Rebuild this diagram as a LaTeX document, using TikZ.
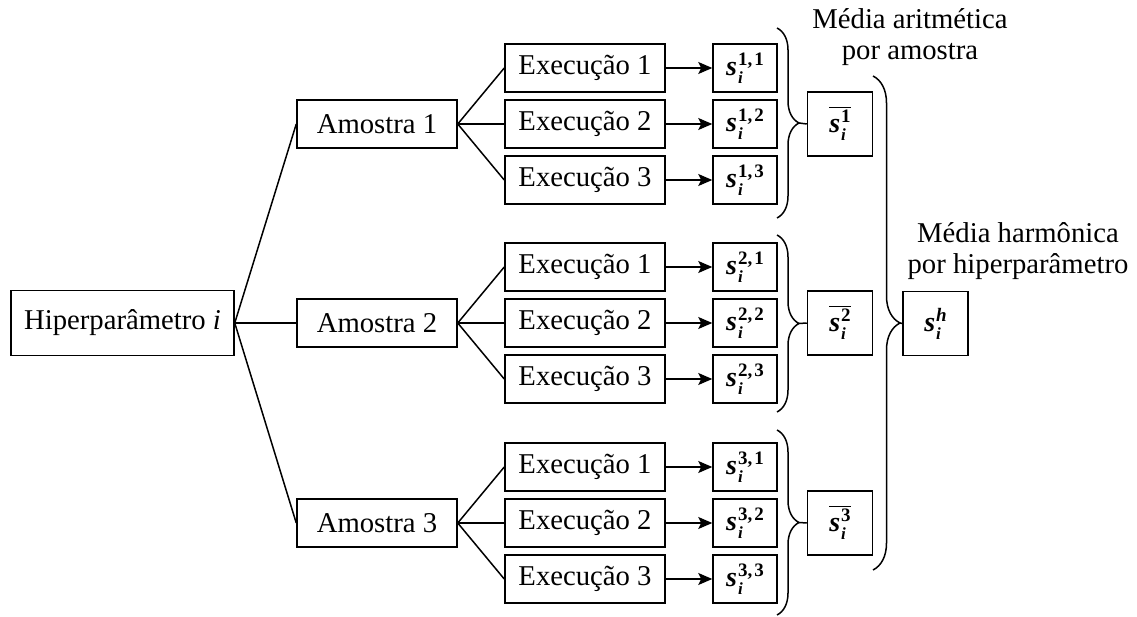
\documentclass[tikz,border=0pt]{standalone}
\usepackage{fontspec}
\setmainfont{Liberation Serif}
\usetikzlibrary{arrows.meta,decorations.pathreplacing}

% score symbol s with a lower index and an upper index, set in bold text
\newcommand{\idxsize}{\fontsize{19}{19}\selectfont}
\newcommand{\subsize}{\fontsize{17}{17}\selectfont}
\newcommand{\scoresym}[2]{{\fontsize{28}{28}\selectfont\textbf{\textit{s}}}\kern1pt\rlap{\raisebox{-8pt}{\subsize\textbf{\textit{#2}}}}\raisebox{10pt}{\idxsize\textbf{#1}}}
\newcommand{\pair}[2]{#1,\kern2pt#2}
% the same symbol under a bar
\newcommand{\scorebar}[2]{\vbox{\hrule height 0.9pt\kern 2pt\hbox{\scoresym{#1}{#2}}}}

\tikzset{
  box/.style={draw, line width=1.5pt, inner sep=0pt, font=\fontsize{28.7}{31}\selectfont},
  widebox/.style={box, minimum width=160pt, minimum height=48pt},
  valbox/.style={box, minimum width=64pt, minimum height=48pt},
  sqbox/.style={box, minimum width=65pt, minimum height=64pt},
  link/.style={line width=1.5pt},
  arrowlink/.style={line width=1.5pt, -{Stealth[length=14pt,width=12pt,inset=3pt]}},
  groupbrace/.style={line width=1.5pt, decorate, decoration={brace, amplitude=22pt}},
  bigbrace/.style={line width=1.5pt, decorate, decoration={brace, amplitude=27pt}},
  caption/.style={align=center, inner sep=0pt, font=\fontsize{28.7}{31}\selectfont}
}

\begin{document}
\begin{tikzpicture}[x=1pt, y=-1pt]
  \useasboundingbox (0,0) rectangle (1137,617);

  % root
  \node[box, minimum width=223pt, minimum height=65pt] (hp) at (122.5,323) {Hiperparâmetro \textit{i}};

  % samples
  \node[widebox] (am1) at (377,124) {Amostra 1};
  \node[widebox] (am2) at (377,323) {Amostra 2};
  \node[widebox] (am3) at (377,523) {Amostra 3};

  % runs
  \node[widebox] (ex11) at (585,68)  {Execução 1};
  \node[widebox] (ex12) at (585,124) {Execução 2};
  \node[widebox] (ex13) at (585,180) {Execução 3};
  \node[widebox] (ex21) at (585,267) {Execução 1};
  \node[widebox] (ex22) at (585,323) {Execução 2};
  \node[widebox] (ex23) at (585,379) {Execução 3};
  \node[widebox] (ex31) at (585,467) {Execução 1};
  \node[widebox] (ex32) at (585,523) {Execução 2};
  \node[widebox] (ex33) at (585,579) {Execução 3};

  % scores of each run
  \node[valbox] (sc11) at (745,68)  {\scoresym{\pair{1}{1}}{i}};
  \node[valbox] (sc12) at (745,124) {\scoresym{\pair{1}{2}}{i}};
  \node[valbox] (sc13) at (745,180) {\scoresym{\pair{1}{3}}{i}};
  \node[valbox] (sc21) at (745,267) {\scoresym{\pair{2}{1}}{i}};
  \node[valbox] (sc22) at (745,323) {\scoresym{\pair{2}{2}}{i}};
  \node[valbox] (sc23) at (745,379) {\scoresym{\pair{2}{3}}{i}};
  \node[valbox] (sc31) at (745,467) {\scoresym{\pair{3}{1}}{i}};
  \node[valbox] (sc32) at (745,523) {\scoresym{\pair{3}{2}}{i}};
  \node[valbox] (sc33) at (745,579) {\scoresym{\pair{3}{3}}{i}};

  % sample means
  \node[sqbox] (m1) at (840,124) {\scorebar{1}{i}};
  \node[sqbox] (m2) at (840,323) {\scorebar{2}{i}};
  \node[sqbox] (m3) at (840,523) {\scorebar{3}{i}};

  % connectors
  \foreach \gi in {1,2,3} {
    \draw[link] (hp.east) -- (am\gi.west);
    \foreach \ri in {1,2,3} {
      \draw[link] (am\gi.east) -- (ex\gi\ri.west);
      \draw[arrowlink] (ex\gi\ri.east) -- (sc\gi\ri.west);
    }
  }

  % arithmetic mean per sample
  \draw[groupbrace] (777,28) -- (777,218);
  \coordinate (b1) at (799,123);
  \draw[groupbrace] (777,235) -- (777,412);
  \coordinate (b2) at (799,323.5);
  \draw[groupbrace] (777,430) -- (777,615);
  \coordinate (b3) at (799,522.5);
  \draw[link] (b1) -- (m1.west);
  \draw[link] (b2) -- (m2.west);
  \draw[link] (b3) -- (m3.west);

  % harmonic mean per hyperparameter
  \node[sqbox] (sh) at (935.5,323.5) {\scoresym{\textit{h}}{i}};
  \draw[bigbrace] (873,76) -- (873,570);
  \coordinate (bh) at (900,323);
  \draw[link] (bh) -- (sh.west);

  \node[caption] (capA) at (910,37) {Média aritmética\\por amostra};
  \node[caption] (capH) at (1018,251) {Média harmônica\\por hiperparâmetro};
\end{tikzpicture}
\end{document}
